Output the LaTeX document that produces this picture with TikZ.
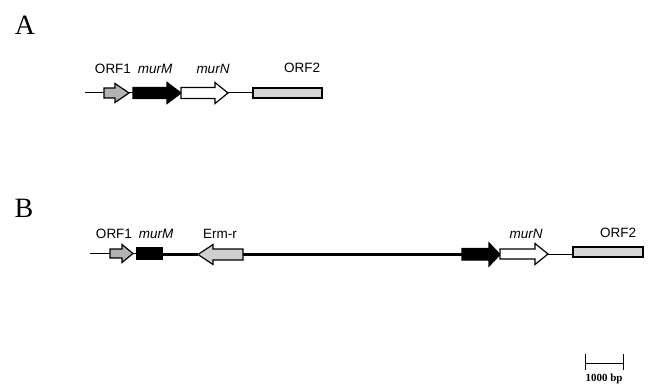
\documentclass[tikz,border=0pt]{standalone}
\usepackage{fontspec}
\setmainfont{Liberation Serif}
\setsansfont{Liberation Sans}
\begin{document}
\begin{tikzpicture}[x=1pt,y=-1pt,
  gene/.style={draw=black,line width=1.2pt,line join=miter},
  orfa/.style={gene,fill=gray!60},
  orfb/.style={gene,fill=gray!32},
  erm/.style={gene,fill=gray!38},
  blk/.style={gene,fill=black},
  wht/.style={gene,fill=white},
  thin/.style={draw=black,line width=1pt},
  thick/.style={draw=black,line width=3pt},
  lbl/.style={font=\sffamily\fontsize{13.5}{15}\selectfont,anchor=base,inner sep=0pt},
  panel/.style={font=\fontsize{28}{30}\selectfont,anchor=base,inner sep=0pt},
  scalelbl/.style={font=\bfseries\fontsize{11}{12}\selectfont,anchor=base,inner sep=0pt}]
\useasboundingbox (0,0) rectangle (650,385);

% panel letters
\node[panel] (pA) at (25,35) {A};
\node[panel] (pB) at (24,217) {B};

% ---------- panel A ----------
\coordinate (a0) at (85,93);
\coordinate (aO1s) at (104,93);
\coordinate (aO1e) at (129,93);
\coordinate (aMs) at (133,93);
\coordinate (aMe) at (181,93);
\coordinate (aNe) at (228,93);
\coordinate (aO2s) at (253,93);
\draw[thin] (a0) -- (aO1s);
\draw[thin] (aO1e) -- (aMs);
\draw[thin] (aNe) -- (aO2s);
% ORF1
\draw[orfa] (104,88) -- (115,88) -- (115,83.5) -- (129,93) -- (115,102.5) -- (115,98) -- (104,98) -- cycle;
% murM
\draw[blk] (133,87.5) -- (167,87.5) -- (167,82.5) -- (181,93) -- (167,103.5) -- (167,98.5) -- (133,98.5) -- cycle;
% murN
\draw[wht] (181,87.5) -- (215,87.5) -- (215,82.5) -- (228,93) -- (215,103.5) -- (215,98.5) -- (181,98.5) -- cycle;
% ORF2
\draw[orfb] (253,88) rectangle (322,98);

\node[lbl] (laO1) at (113,73.5) {ORF1};
\node[lbl] (laM) at (155,73.5) {\itshape murM};
\node[lbl] (laN) at (213,73.5) {\itshape murN};
\node[lbl] (laO2) at (302,72.5) {ORF2};

% ---------- panel B ----------
\coordinate (b0) at (90,253.5);
\coordinate (bO1s) at (110,253.5);
\coordinate (bO1e) at (133,253.5);
\coordinate (bMs) at (137,253.5);
\coordinate (bMe) at (162,254);
\coordinate (bEt) at (198,254);
\coordinate (bEe) at (243,254);
\coordinate (bKs) at (462,254);
\coordinate (bNe) at (548,254);
\coordinate (bO2s) at (573,254);
\draw[thin] (b0) -- (bO1s);
\draw[thin] (bO1e) -- (bMs);
\draw[thick] (bMe) -- (bEt);
\draw[thick] (bEe) -- (bKs);
\draw[thin] (bNe) -- (bO2s);
% ORF1
\draw[orfa] (110,249) -- (122,249) -- (122,244.5) -- (133,253.5) -- (122,262.5) -- (122,258) -- (110,258) -- cycle;
% murM fragment
\draw[blk] (137,248) rectangle (162,259);
% Erm-r (leftward)
\draw[erm] (243,249) -- (213,249) -- (213,244.5) -- (198,254.5) -- (213,264.5) -- (213,260) -- (243,260) -- cycle;
% murM second part
\draw[blk] (462,248.5) -- (489,248.5) -- (489,243) -- (500,254.5) -- (489,266) -- (489,260) -- (462,260) -- cycle;
% murN
\draw[wht] (500,249) -- (535,249) -- (535,243.5) -- (548,254) -- (535,264.5) -- (535,259) -- (500,259) -- cycle;
% ORF2
\draw[orfb] (573,247) rectangle (643,257);

\node[lbl] (lbO1) at (114,238.5) {ORF1};
\node[lbl] (lbM) at (156,238.5) {\itshape murM};
\node[lbl] (lbE) at (220,238.5) {Erm-r};
\node[lbl] (lbN) at (526,238.5) {\itshape murN};
\node[lbl] (lbO2) at (618,237.5) {ORF2};

% ---------- scale bar ----------
\coordinate (s1) at (585,363);
\coordinate (s2) at (623,363);
\draw[thin] (s1) -- (s2);
\draw[thin] (585,354) -- (585,370);
\draw[thin] (623,354) -- (623,370);
\node[scalelbl] (sl) at (604,381) {1000 bp};
\end{tikzpicture}
\end{document}
